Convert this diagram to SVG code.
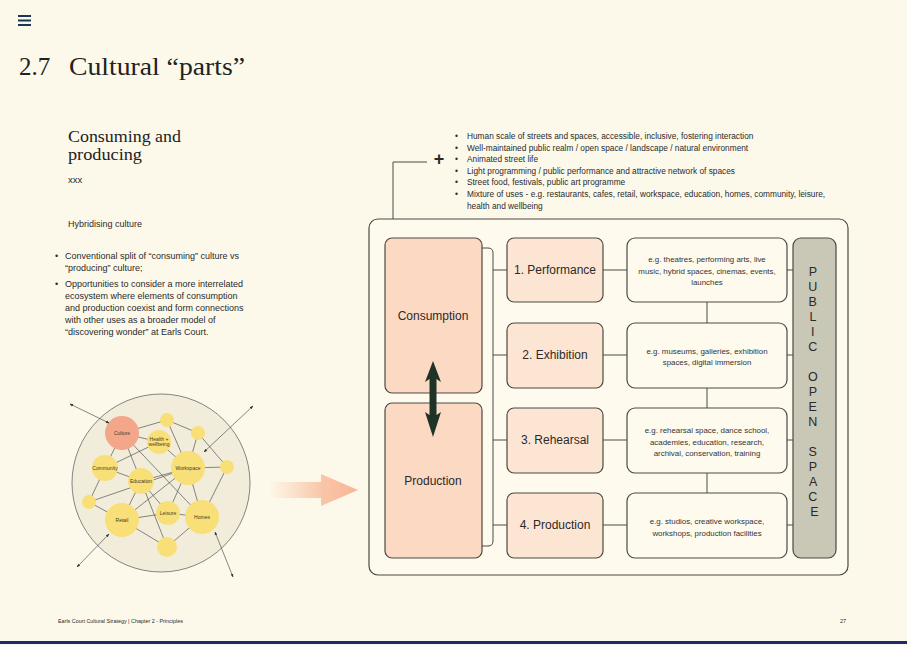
<svg xmlns="http://www.w3.org/2000/svg" width="907" height="645" viewBox="0 0 907 645">
<defs>
<style>
.serif{font-family:"Liberation Serif","DejaVu Serif",serif;fill:#222}
.sans{font-family:"Liberation Sans","Noto Sans",sans-serif;fill:#2a2a2a}
.body{font-size:9px}
.top{font-size:8.3px}
.desc{font-size:7.9px;text-anchor:middle;fill:#333}
.lbl{font-size:12px;text-anchor:middle;fill:#2a2a2a}
.box{stroke:#4a4a44;stroke-width:1.2}
.conn{stroke:#4a4a44;stroke-width:1;fill:none}
.net{stroke:#555;stroke-width:0.7;fill:none}
.yn{fill:#f8df78}
.nl{font-family:"Liberation Sans",sans-serif;font-size:5px;fill:#4a3a20;text-anchor:middle}
</style>
<marker id="ah" viewBox="0 0 10 10" refX="9" refY="5" markerWidth="5" markerHeight="5" orient="auto-start-reverse">
<path d="M0,1 L10,5 L0,9 z" fill="#333"/>
</marker>
<linearGradient id="og" x1="0" y1="0" x2="1" y2="0">
<stop offset="0" stop-color="#f9c4a6" stop-opacity="0"/>
<stop offset="0.6" stop-color="#f9c0a0" stop-opacity="0.9"/>
<stop offset="1" stop-color="#f8b594"/>
</linearGradient>
</defs>
<rect width="907" height="645" fill="#fdf9ea"/>

<!-- hamburger -->
<g id="menu" fill="#1d3557">
<rect x="18" y="15" width="13" height="2"/>
<rect x="18" y="19.5" width="13" height="2"/>
<rect x="18" y="24" width="13" height="2"/>
</g>

<!-- title -->
<g id="title">
<text class="serif" x="19" y="75" font-size="25">2.7</text>
<text class="serif" x="69" y="75" font-size="25" textLength="176" lengthAdjust="spacingAndGlyphs">Cultural “parts”</text>
</g>

<!-- left text column -->
<g id="intro">
<text class="serif" x="68" y="142" font-size="16.5" textLength="113" lengthAdjust="spacingAndGlyphs">Consuming and</text>
<text class="serif" x="68" y="160" font-size="16.5" textLength="74" lengthAdjust="spacingAndGlyphs">producing</text>
<text class="sans" x="68" y="183" font-size="9.5" fill="#333">xxx</text>
<text class="sans body" x="68" y="227">Hybridising culture</text>
<text class="sans body" x="55" y="259">•</text>
<text class="sans body" x="65" y="259">Conventional split of “consuming” culture vs</text>
<text class="sans body" x="65" y="271">“producing” culture;</text>
<text class="sans body" x="55" y="287">•</text>
<text class="sans body" x="65" y="287">Opportunities to consider a more interrelated</text>
<text class="sans body" x="65" y="299">ecosystem where elements of consumption</text>
<text class="sans body" x="65" y="311">and production coexist and form connections</text>
<text class="sans body" x="65" y="323">with other uses as a broader model of</text>
<text class="sans body" x="65" y="335">“discovering wonder” at Earls Court.</text>
</g>

<!-- network illustration -->
<g id="network">
<circle cx="161" cy="483" r="89" fill="#f2edda" stroke="#666" stroke-width="0.8"/>
<g class="net">
<line x1="122" y1="433" x2="167" y2="420"/>
<line x1="167" y1="420" x2="198" y2="433"/>
<line x1="167" y1="420" x2="188" y2="468"/>
<line x1="198" y1="433" x2="188" y2="468"/>
<line x1="198" y1="433" x2="227" y2="467"/>
<line x1="122" y1="433" x2="159" y2="442"/>
<line x1="122" y1="433" x2="105" y2="468"/>
<line x1="122" y1="433" x2="141" y2="481"/>
<line x1="122" y1="433" x2="202" y2="517"/>
<line x1="105" y1="468" x2="159" y2="442"/>
<line x1="105" y1="468" x2="141" y2="481"/>
<line x1="105" y1="468" x2="89" y2="502"/>
<line x1="141" y1="481" x2="188" y2="468"/>
<line x1="89" y1="502" x2="188" y2="468"/>
<line x1="89" y1="502" x2="122" y2="520"/>
<line x1="122" y1="520" x2="141" y2="481"/>
<line x1="122" y1="520" x2="188" y2="468"/>
<line x1="122" y1="520" x2="168" y2="513"/>
<line x1="122" y1="520" x2="167" y2="547"/>
<line x1="141" y1="481" x2="167" y2="547"/>
<line x1="141" y1="481" x2="168" y2="513"/>
<line x1="168" y1="513" x2="188" y2="468"/>
<line x1="168" y1="513" x2="202" y2="517"/>
<line x1="167" y1="547" x2="202" y2="517"/>
<line x1="188" y1="468" x2="227" y2="467"/>
<line x1="188" y1="468" x2="202" y2="517"/>
<line x1="227" y1="467" x2="202" y2="517"/>
<line x1="159" y1="442" x2="188" y2="468"/>
</g>
<circle cx="122" cy="433" r="17" fill="#f4a68a"/>
<circle cx="167" cy="420" r="7" class="yn"/>
<circle cx="159" cy="442" r="12" class="yn"/>
<circle cx="198" cy="433" r="7" class="yn"/>
<circle cx="105" cy="468" r="13" class="yn"/>
<circle cx="188" cy="468" r="17" class="yn"/>
<circle cx="227" cy="467" r="7" class="yn"/>
<circle cx="141" cy="481" r="13" class="yn"/>
<circle cx="89" cy="502" r="7" class="yn"/>
<circle cx="122" cy="520" r="17" class="yn"/>
<circle cx="168" cy="513" r="12" class="yn"/>
<circle cx="202" cy="517" r="17" class="yn"/>
<circle cx="167" cy="547" r="10" class="yn"/>
<text class="nl" x="122" y="435">Culture</text>
<text class="nl" x="159" y="441" font-size="4.3">Health +</text>
<text class="nl" x="159" y="446" font-size="4.3">wellbeing</text>
<text class="nl" x="105" y="470" font-size="4.3">Community</text>
<text class="nl" x="188" y="470">Workspace</text>
<text class="nl" x="141" y="483" font-size="4.5">Education</text>
<text class="nl" x="122" y="522">Retail</text>
<text class="nl" x="168" y="515" font-size="4.5">Leisure</text>
<text class="nl" x="202" y="519">Homes</text>
<g class="net" stroke="#333" stroke-width="0.8">
<line x1="70" y1="404" x2="109" y2="423" marker-start="url(#ah)" marker-end="url(#ah)"/>
<line x1="253" y1="406" x2="204" y2="452" marker-start="url(#ah)" marker-end="url(#ah)"/>
<line x1="77" y1="567" x2="109" y2="534" marker-start="url(#ah)" marker-end="url(#ah)"/>
<line x1="233" y1="577" x2="215" y2="532" marker-start="url(#ah)" marker-end="url(#ah)"/>
</g>
</g>

<!-- big orange arrow -->
<g id="bigarrow">
<path d="M268,482 H321 V474 L358,490 L321,506 V498 H268 Z" fill="url(#og)"/>
</g>

<!-- top bullet list -->
<g id="toplist">
<text class="sans top" x="455" y="139">•</text>
<text class="sans top" x="467" y="139">Human scale of streets and spaces, accessible, inclusive, fostering interaction</text>
<text class="sans top" x="455" y="151">•</text>
<text class="sans top" x="467" y="151">Well-maintained public realm / open space / landscape / natural environment</text>
<text class="sans top" x="455" y="162">•</text>
<text class="sans top" x="467" y="162">Animated street life</text>
<text class="sans top" x="455" y="174">•</text>
<text class="sans top" x="467" y="174">Light programming / public performance and attractive network of spaces</text>
<text class="sans top" x="455" y="185">•</text>
<text class="sans top" x="467" y="185">Street food, festivals, public art programme</text>
<text class="sans top" x="455" y="197">•</text>
<text class="sans top" x="467" y="197">Mixture of uses - e.g. restaurants, cafes, retail, workspace, education, homes, community, leisure,</text>
<text class="sans top" x="467" y="209">health and wellbeing</text>
<text class="sans" x="439" y="165" font-size="18" font-weight="bold" text-anchor="middle" fill="#222">+</text>
</g>

<!-- outer frame -->
<g id="frame">
<rect x="369" y="219" width="479" height="356" rx="9" fill="#fefbee" class="box"/>
</g>

<!-- connectors -->
<g id="connectors" class="conn">
<path d="M393,219 V162 H427"/>
<path d="M482,248 H488 Q493,248 493,253 V541 Q493,546 488,546 H482"/>
<line x1="493" y1="270" x2="507" y2="270"/>
<line x1="493" y1="355" x2="507" y2="355"/>
<line x1="493" y1="440" x2="507" y2="440"/>
<line x1="493" y1="525" x2="507" y2="525"/>
<line x1="603" y1="270" x2="627" y2="270"/>
<line x1="603" y1="355" x2="627" y2="355"/>
<line x1="603" y1="440" x2="627" y2="440"/>
<line x1="603" y1="525" x2="627" y2="525"/>
<line x1="787" y1="270" x2="793" y2="270"/>
<line x1="787" y1="355" x2="793" y2="355"/>
<line x1="787" y1="440" x2="793" y2="440"/>
<line x1="787" y1="525" x2="793" y2="525"/>
<line x1="707" y1="302" x2="707" y2="323"/>
<line x1="707" y1="388" x2="707" y2="408"/>
<line x1="707" y1="473" x2="707" y2="493"/>
</g>

<!-- consumption / production -->
<g id="consumption">
<rect x="385" y="238" width="97" height="155" rx="7" fill="#fbd9c3" class="box"/>
<text class="sans lbl" x="433" y="320">Consumption</text>
</g>
<g id="production">
<rect x="385" y="403" width="97" height="155" rx="7" fill="#fbd9c3" class="box"/>
<text class="sans lbl" x="433" y="485">Production</text>
</g>
<g id="updown">
<path d="M433,361 L441,382 L436.5,379 V415 L441,412 L433,437 L425,412 L429.5,415 V379 L425,382 Z" fill="#1f3426"/>
</g>

<!-- categories -->
<g id="performance">
<rect x="507" y="238" width="96" height="64" rx="7" fill="#fde5d3" class="box"/>
<text class="sans lbl" x="555" y="274">1. Performance</text>
</g>
<g id="exhibition">
<rect x="507" y="323" width="96" height="65" rx="7" fill="#fde5d3" class="box"/>
<text class="sans lbl" x="555" y="359">2. Exhibition</text>
</g>
<g id="rehearsal">
<rect x="507" y="408" width="96" height="65" rx="7" fill="#fde5d3" class="box"/>
<text class="sans lbl" x="555" y="444">3. Rehearsal</text>
</g>
<g id="production4">
<rect x="507" y="493" width="96" height="65" rx="7" fill="#fde5d3" class="box"/>
<text class="sans lbl" x="555" y="529">4. Production</text>
</g>

<!-- descriptions -->
<g id="desc1">
<rect x="627" y="238" width="160" height="64" rx="8" fill="#fefbee" class="box"/>
<text class="sans desc" x="707" y="262">e.g. theatres, performing arts, live</text>
<text class="sans desc" x="707" y="273.5">music, hybrid spaces, cinemas, events,</text>
<text class="sans desc" x="707" y="285">launches</text>
</g>
<g id="desc2">
<rect x="627" y="323" width="160" height="65" rx="8" fill="#fefbee" class="box"/>
<text class="sans desc" x="707" y="353.5">e.g. museums, galleries, exhibition</text>
<text class="sans desc" x="707" y="365">spaces, digital immersion</text>
</g>
<g id="desc3">
<rect x="627" y="408" width="160" height="65" rx="8" fill="#fefbee" class="box"/>
<text class="sans desc" x="707" y="433">e.g. rehearsal space, dance school,</text>
<text class="sans desc" x="707" y="444.5">academies, education, research,</text>
<text class="sans desc" x="707" y="456">archival, conservation, training</text>
</g>
<g id="desc4">
<rect x="627" y="493" width="160" height="65" rx="8" fill="#fefbee" class="box"/>
<text class="sans desc" x="707" y="524">e.g. studios, creative workspace,</text>
<text class="sans desc" x="707" y="535.5">workshops, production facilities</text>
</g>

<!-- public open space -->
<g id="public-open-space">
<rect x="793" y="238" width="43" height="320" rx="8" fill="#c9c7b5" class="box"/>
<text class="sans" font-size="12.5" text-anchor="middle" fill="#333">
<tspan x="814.5" y="276">P</tspan>
<tspan x="814.5" dy="15">U</tspan>
<tspan x="814.5" dy="15">B</tspan>
<tspan x="814.5" dy="15">L</tspan>
<tspan x="814.5" dy="15">I</tspan>
<tspan x="814.5" dy="15">C</tspan>
<tspan x="814.5" dy="30">O</tspan>
<tspan x="814.5" dy="15">P</tspan>
<tspan x="814.5" dy="15">E</tspan>
<tspan x="814.5" dy="15">N</tspan>
<tspan x="814.5" dy="30">S</tspan>
<tspan x="814.5" dy="15">P</tspan>
<tspan x="814.5" dy="15">A</tspan>
<tspan x="814.5" dy="15">C</tspan>
<tspan x="814.5" dy="15">E</tspan>
</text>
</g>

<!-- footer -->
<g id="footer">
<text class="sans" x="58" y="622.5" font-size="5.4" fill="#444">Earls Court Cultural Strategy | Chapter 2 - Principles</text>
<text class="sans" x="840" y="622.5" font-size="5.5" fill="#444">27</text>
<rect x="0" y="641" width="907" height="3" fill="#1e2a6b"/>
</g>
</svg>
